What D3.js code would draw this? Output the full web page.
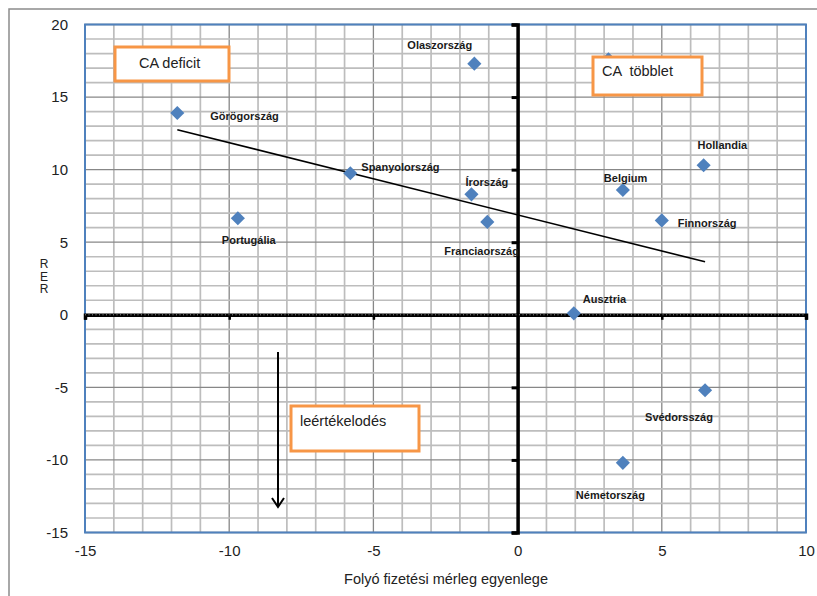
<!DOCTYPE html>
<html>
<head>
<meta charset="utf-8">
<script src="https://cdn.jsdelivr.net/npm/d3@7"></script>
<style>
  html, body { margin: 0; padding: 0; background: #fff; }
  svg { display: block; }
  text { font-family: "Liberation Sans", Arial, sans-serif; }
</style>
</head>
<body>
<svg id="chart" width="817" height="596"></svg>
<script>
// ---- data ----
const countries = ["Görögország", "Olaszország", "Spanyolország", "Írország", "Franciaország",
  "Portugália", "Ausztria", "Belgium", "Hollandia", "Finnország", "Svédorsszág", "Németország", ""];
const caBalance = [-11.8, -1.5, -5.8, -1.6, -1.05, -9.7, 1.95, 3.65, 6.45, 5.0, 6.5, 3.65, 3.15];
const rer = [13.9, 17.3, 9.75, 8.3, 6.4, 6.65, 0.1, 8.6, 10.3, 6.5, -5.2, -10.2, 17.6];
const trendX = [-11.8, 6.5];
const trendY = [12.75, 3.65];
const xTicks = [-15, -10, -5, 0, 5, 10];
const yTicks = [-15, -10, -5, 0, 5, 10, 15, 20];
const xTitle = "Folyó fizetési mérleg egyenlege";
const yTitle = ["R", "E", "R"];
const boxTexts = ["CA deficit", "CA  többlet", "leértékelodés"];

// ---- layout / style (not data) ----
const labelOffsets = [[33, 3], [-67, -19], [11, -6], [-6, -12], [-43, 29], [-16, 22], [9, -14],
  [-19, -12], [-6, -20], [16, 3], [-60, 27], [-47, 32], [0, 0]];
const boxes = [
  {x: 115, y: 47, w: 114, h: 34, tx: 139, ty: 63},
  {x: 593, y: 57, w: 109, h: 38, tx: 602, ty: 71},
  {x: 291, y: 406, w: 128, h: 45, tx: 300, ty: 421}
];

const svg = d3.select("#chart");
const L = 85, R = 806, T = 24.5, B = 532.5;
const x = d3.scaleLinear().domain([-15, 10]).range([L, R]);
const y = d3.scaleLinear().domain([-15, 20]).range([B, T]);
const fmt = d => String(d);

// outer border
svg.append("rect").attr("x", 9).attr("y", 9).attr("width", 840).attr("height", 640)
  .attr("fill", "#fff").attr("stroke", "#8c8c8c").attr("stroke-width", 1.5);

// grid
const gGrid = svg.append("g");
d3.range(-15, 11, 1).forEach(v => {
  const major = v % 5 === 0;
  gGrid.append("line").attr("x1", x(v)).attr("x2", x(v)).attr("y1", T).attr("y2", B)
    .attr("stroke", major ? "#878787" : "#bdbdbd").attr("stroke-width", major ? 1.3 : 1.7);
});
d3.range(-15, 21, 1).forEach(v => {
  const major = v % 5 === 0;
  gGrid.append("line").attr("y1", y(v)).attr("y2", y(v)).attr("x1", L).attr("x2", R)
    .attr("stroke", major ? "#878787" : "#bdbdbd").attr("stroke-width", major ? 1.3 : 1.7);
});

// plot border
svg.append("rect").attr("x", L).attr("y", T).attr("width", R - L).attr("height", B - T)
  .attr("fill", "none").attr("stroke", "#4f81bd").attr("stroke-width", 2);

// tick labels via axes
const yAxis = d3.axisLeft(y).tickValues(yTicks).tickSize(0).tickPadding(17).tickFormat(fmt);
const gy = svg.append("g").attr("transform", `translate(${L},0)`).call(yAxis);
gy.select(".domain").remove();
gy.selectAll("text").attr("font-size", 15).attr("fill", "#222")
  .attr("font-family", "'Liberation Sans', Arial, sans-serif");

const xAxis = d3.axisBottom(x).tickValues(xTicks).tickSize(0).tickPadding(13).tickFormat(fmt);
const gx = svg.append("g").attr("transform", `translate(0,${B})`).call(xAxis);
gx.select(".domain").remove();
gx.selectAll("text").attr("font-size", 15).attr("fill", "#222")
  .attr("font-family", "'Liberation Sans', Arial, sans-serif");

// thick zero axes with tick marks
const zeroY = svg.append("g").attr("transform", `translate(${x(0)},0)`)
  .call(d3.axisLeft(y).tickValues(yTicks).tickSize(6).tickFormat(""));
zeroY.select(".domain").attr("stroke", "#000").attr("stroke-width", 3.5);
zeroY.selectAll(".tick line").attr("stroke", "#000").attr("stroke-width", 3);

const zeroX = svg.append("g").attr("transform", `translate(0,${y(0)})`)
  .call(d3.axisBottom(x).tickValues(xTicks).tickSize(5).tickFormat(""));
zeroX.select(".domain").attr("stroke", "#000").attr("stroke-width", 3.5);
zeroX.selectAll(".tick line").attr("stroke", "#000").attr("stroke-width", 2.5);
svg.append("line").attr("x1", L).attr("x2", R).attr("y1", y(0)).attr("y2", y(0))
  .attr("stroke", "#fff").attr("stroke-width", 0.8).attr("stroke-dasharray", "1,2.5").attr("opacity", 0.7);

// trend line
svg.append("line")
  .attr("x1", x(trendX[0])).attr("y1", y(trendY[0]))
  .attr("x2", x(trendX[1])).attr("y2", y(trendY[1]))
  .attr("stroke", "#000").attr("stroke-width", 1.6);

// points
const diamond = d3.symbol().type(d3.symbolSquare).size(100);
svg.append("g").selectAll("path").data(caBalance).join("path")
  .attr("d", diamond)
  .attr("transform", (d, i) => `translate(${x(d)},${y(rer[i])}) rotate(45)`)
  .attr("fill", "#4f81bd");

// labels
svg.append("g").selectAll("text").data(countries).join("text")
  .attr("x", (d, i) => x(caBalance[i]) + labelOffsets[i][0])
  .attr("y", (d, i) => y(rer[i]) + labelOffsets[i][1])
  .attr("dy", "0.35em")
  .attr("font-size", 11).attr("font-weight", "bold").attr("fill", "#1a1a1a")
  .text(d => d);

// boxes
boxes.forEach((b, i) => {
  svg.append("rect").attr("x", b.x).attr("y", b.y).attr("width", b.w).attr("height", b.h)
    .attr("fill", "#fff").attr("stroke", "#f79646").attr("stroke-width", 3);
  svg.append("text").attr("x", b.tx).attr("y", b.ty).attr("dy", "0.35em")
    .attr("font-size", 14.5).attr("fill", "#222").style("white-space", "pre")
    .attr("xml:space", "preserve").text(boxTexts[i]);
});

// arrow
svg.append("line").attr("x1", 278).attr("x2", 278).attr("y1", 352).attr("y2", 507)
  .attr("stroke", "#000").attr("stroke-width", 2);
svg.append("path").attr("d", "M272,498 L278,507 L284,498")
  .attr("fill", "none").attr("stroke", "#000").attr("stroke-width", 2);

// axis titles
svg.append("text").attr("x", 446).attr("y", 579).attr("dy", "0.35em")
  .attr("text-anchor", "middle").attr("font-size", 14.5).attr("fill", "#222").text(xTitle);
svg.append("g").selectAll("text").data(yTitle).join("text")
  .attr("x", 44).attr("y", (d, i) => 264 + i * 12.5).attr("dy", "0.35em")
  .attr("text-anchor", "middle").attr("font-size", 12).attr("fill", "#222").text(d => d);
</script>
</body>
</html>
